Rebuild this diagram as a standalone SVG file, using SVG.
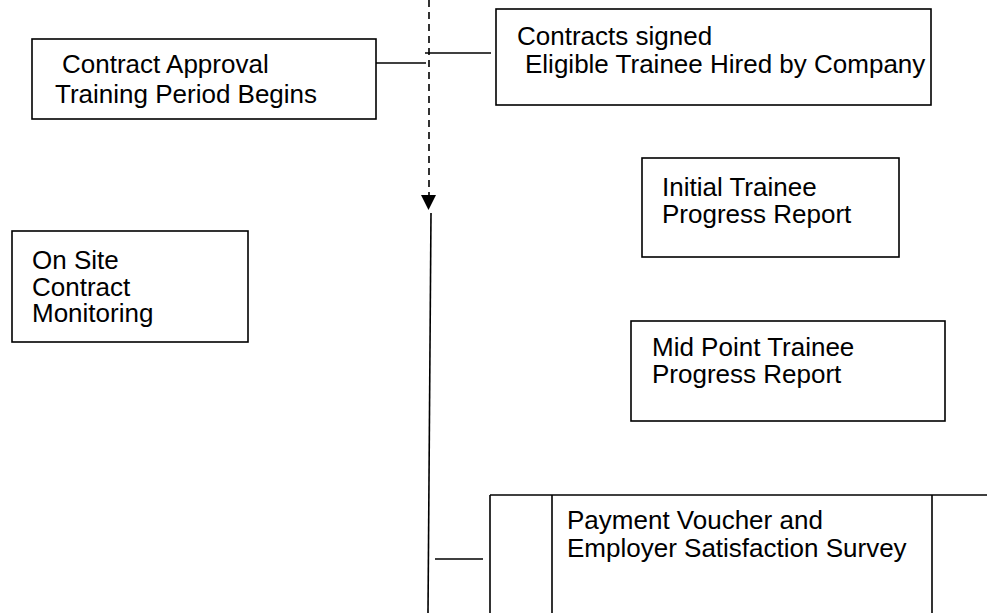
<svg xmlns="http://www.w3.org/2000/svg" width="987" height="613" viewBox="0 0 987 613">
<style>
.box{fill:#fff;stroke:#000;stroke-width:1.6}
.ln{fill:none;stroke:#000;stroke-width:1.6}
.dash{fill:none;stroke:#000;stroke-width:1.6;stroke-dasharray:7,5}
text{font-family:"Liberation Sans",Arial,sans-serif;font-size:26px;fill:#000}
</style>
<defs>
<marker id="arr" markerWidth="16" markerHeight="16" refX="8" refY="15" orient="auto" markerUnits="userSpaceOnUse" viewBox="0 0 16 16">
<path d="M0,0 L16,0 L8,15 Z" fill="#000"/>
</marker>
</defs>
<rect width="987" height="613" fill="#fff"/>
<g id="connectors">
<line class="dash" x1="429" y1="0" x2="429" y2="195"/>
<path d="M421,195 L436,195 L428.5,210 Z" fill="#000"/>
<line class="ln" x1="431" y1="213" x2="428" y2="613"/>
<line class="ln" x1="376" y1="63" x2="426" y2="63"/>
<line class="ln" x1="425" y1="53" x2="491" y2="53"/>
<line class="ln" x1="435" y1="559" x2="483" y2="559"/>
</g>
<g id="contract-approval">
<rect class="box" x="32" y="39" width="344" height="80"/>
<text x="62" y="73">Contract Approval</text>
<text x="55" y="103">Training Period Begins</text>
</g>
<g id="contracts-signed">
<rect class="box" x="496" y="9" width="435" height="96"/>
<text x="517" y="45">Contracts signed</text>
<text x="525" y="73">Eligible Trainee Hired by Company</text>
</g>
<g id="initial-report">
<rect class="box" x="642" y="158" width="257" height="99"/>
<text x="662" y="196">Initial Trainee</text>
<text x="662" y="223">Progress Report</text>
</g>
<g id="on-site">
<rect class="box" x="12" y="231" width="236" height="111"/>
<text x="32" y="269">On Site</text>
<text x="32" y="296">Contract</text>
<text x="32" y="322">Monitoring</text>
</g>
<g id="mid-point-report">
<rect class="box" x="631" y="321" width="314" height="100"/>
<text x="652" y="356">Mid Point Trainee</text>
<text x="652" y="383">Progress Report</text>
</g>
<g id="payment-voucher">
<line class="ln" x1="490" y1="495" x2="987" y2="495"/>
<line class="ln" x1="490" y1="495" x2="490" y2="613"/>
<line class="ln" x1="552" y1="495" x2="552" y2="613"/>
<line class="ln" x1="932" y1="495" x2="932" y2="613"/>
<text x="567" y="529">Payment Voucher and</text>
<text x="567" y="557">Employer Satisfaction Survey</text>
</g>
</svg>
